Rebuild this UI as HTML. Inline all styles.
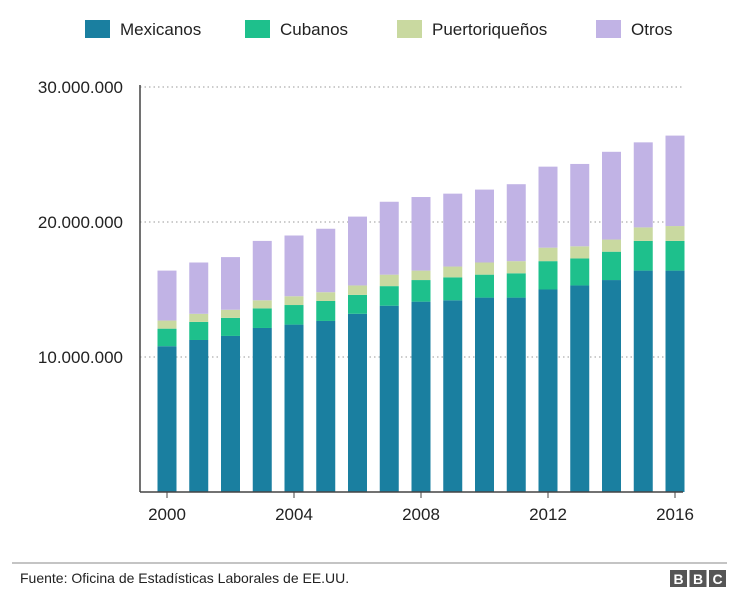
<!DOCTYPE html>
<html><head><meta charset="utf-8"><style>
body{margin:0;background:#fff;font-family:"Liberation Sans",sans-serif;}
svg text{font-family:"Liberation Sans",sans-serif;fill:#222;}
</style></head><body>
<svg id="chart" width="737" height="592" viewBox="0 0 737 592"></svg>
<script>
const years=[2000,2001,2002,2003,2004,2005,2006,2007,2008,2009,2010,2011,2012,2013,2014,2015,2016];
const mexicanos=[10.8,11.26,11.56,12.15,12.4,12.67,13.2,13.8,14.1,14.2,14.4,14.4,15.0,15.3,15.7,16.4,16.4];
const cubanos=[1.3,1.34,1.34,1.45,1.45,1.48,1.4,1.45,1.6,1.7,1.7,1.8,2.1,2.0,2.1,2.2,2.2];
const puertorriquenos=[0.6,0.6,0.6,0.6,0.65,0.65,0.7,0.85,0.7,0.8,0.9,0.9,1.0,0.9,0.9,1.0,1.1];
const otros=[3.7,3.8,3.9,4.4,4.5,4.7,5.1,5.4,5.45,5.4,5.4,5.7,6.0,6.1,6.5,6.3,6.7];
const yTicks=[10,20,30];
const yTickLabels=["10.000.000","20.000.000","30.000.000"];
const xTickYears=[2000,2004,2008,2012,2016];
const seriesNames=["Mexicanos","Cubanos","Puertoriqueños","Otros"];
const colors=["#1a7fa0","#1ec08c","#c9d9a0","#c1b3e5"];

const NS="http://www.w3.org/2000/svg";
const svg=document.getElementById('chart');
function mk(t,a,p){const e=document.createElementNS(NS,t);for(const k in a)e.setAttribute(k,a[k]);(p||svg).appendChild(e);return e;}
const y0=492, pxPerM=13.5;
const yS=v=>y0-v*pxPerM;
const xS=yr=>167+(yr-2000)*31.75;
const bw=19;

// legend
const legendX=[85,245,397,596];
seriesNames.forEach((n,i)=>{
  const g=mk('g',{});
  
  
  mk('rect',{x:legendX[i],y:20,width:25,height:18,fill:colors[i]},g);
  const t=mk('text',{x:legendX[i]+35,y:35,'font-size':17},g);t.textContent=n;
});

// gridlines & y labels
yTicks.forEach((v,i)=>{
  const l=mk('line',{x1:140,x2:683,y1:yS(v),y2:yS(v),stroke:'#999','stroke-dasharray':'1.5,3'});
  
  
  const t=mk('text',{x:123,y:yS(v)+6,'font-size':17,'text-anchor':'end'});
  
  
  t.textContent=yTickLabels[i];
});

// bars
const series=[mexicanos,cubanos,puertorriquenos,otros];
years.forEach((yr,i)=>{
  let base=0;
  series.forEach((s,j)=>{
    const r=mk('rect',{x:xS(yr)-bw/2,y:yS(base+s[i]),width:bw,height:s[i]*pxPerM,fill:colors[j]});
    
    
    base+=s[i];
  });
});

// axes
const ya=mk('line',{x1:140,x2:140,y1:85,y2:y0,stroke:'#444','stroke-width':1.5});


const xa=mk('line',{x1:140,x2:683,y1:y0,y2:y0,stroke:'#444','stroke-width':1.5});


xTickYears.forEach(yr=>{
  mk('line',{x1:xS(yr),x2:xS(yr),y1:y0,y2:y0+6,stroke:'#444'});
  const t=mk('text',{x:xS(yr),y:520,'font-size':17,'text-anchor':'middle'});
  
  
  t.textContent=yr;
});

// footer
const fl=mk('line',{x1:12,x2:727,y1:563,y2:563,stroke:'#888'});


const src=mk('text',{x:20,y:583,'font-size':14});


src.textContent="Fuente: Oficina de Estadísticas Laborales de EE.UU.";
const logo=mk('g',{});


["B","B","C"].forEach((c,i)=>{
  mk('rect',{x:670+i*19.5,y:570,width:17,height:17,fill:'#555'},logo);
  const t=mk('text',{x:678.5+i*19.5,y:584,'font-size':14,'font-weight':'bold','text-anchor':'middle',style:'fill:#fff'},logo);
  t.textContent=c;
});
</script>
</body></html>
